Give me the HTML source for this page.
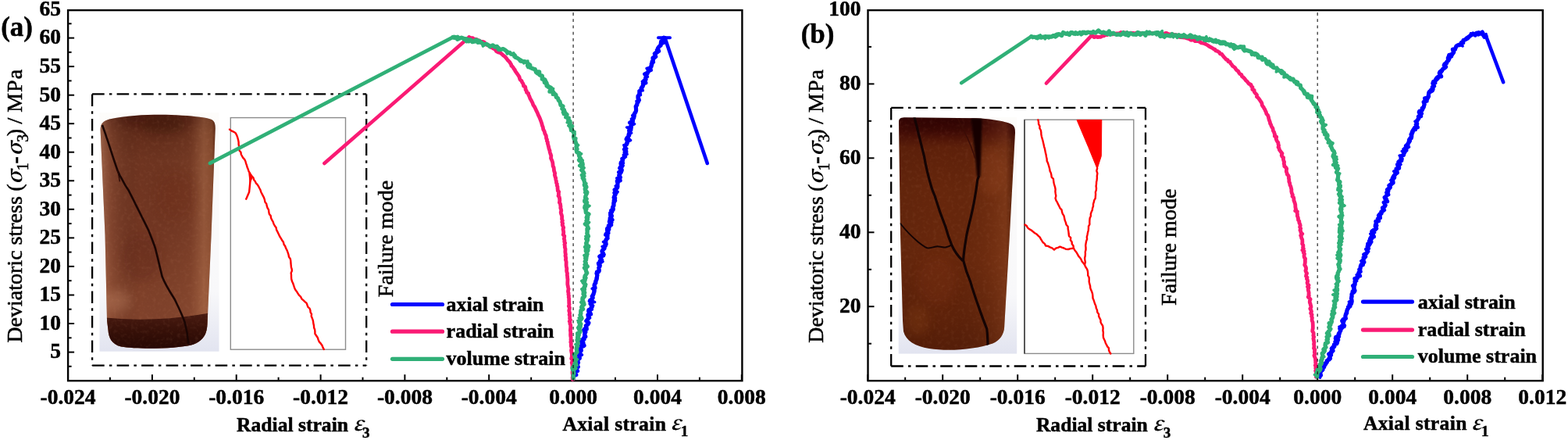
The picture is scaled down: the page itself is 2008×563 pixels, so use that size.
<!DOCTYPE html><html><head><meta charset="utf-8"><title>Stress-strain curves</title>
<style>html,body{margin:0;padding:0;background:#fff;width:2008px;height:563px;overflow:hidden}svg{display:block}text{font-family:'Liberation Serif','Times New Roman',serif;fill:#000}.tk{font-weight:bold;font-size:27.5px;stroke:#000;stroke-width:0.5px}.lg{font-weight:bold;font-size:26px;stroke:#000;stroke-width:0.5px}.lb{font-size:28px;stroke:#000;stroke-width:0.55px}</style></head><body>
<svg width="2008" height="563" viewBox="0 0 2008 563">
<defs><linearGradient id="gaV" x1="0" y1="0" x2="0" y2="1"><stop offset="0" stop-color="#4a1c0e"/><stop offset="0.08" stop-color="#6a2e1c"/><stop offset="0.2" stop-color="#7a3a24"/><stop offset="0.6" stop-color="#7e3f28"/><stop offset="0.83" stop-color="#84452e"/><stop offset="0.855" stop-color="#4a1a0e"/><stop offset="1" stop-color="#2e0c06"/></linearGradient><linearGradient id="gaH" x1="0" y1="0" x2="1" y2="0"><stop offset="0" stop-color="#c08060" stop-opacity="0.45"/><stop offset="0.1" stop-color="#b07050" stop-opacity="0.2"/><stop offset="0.5" stop-color="#000" stop-opacity="0"/><stop offset="0.9" stop-color="#000" stop-opacity="0.05"/><stop offset="1" stop-color="#000" stop-opacity="0.15"/></linearGradient><linearGradient id="gbV" x1="0" y1="0" x2="0" y2="1"><stop offset="0" stop-color="#300505"/><stop offset="0.08" stop-color="#3c0c06"/><stop offset="0.15" stop-color="#5a2410"/><stop offset="0.5" stop-color="#5f230c"/><stop offset="0.85" stop-color="#58220c"/><stop offset="1" stop-color="#4a1a08"/></linearGradient><linearGradient id="gbH" x1="0" y1="0" x2="1" y2="0"><stop offset="0" stop-color="#000" stop-opacity="0.05"/><stop offset="0.5" stop-color="#000" stop-opacity="0"/><stop offset="0.85" stop-color="#a05a28" stop-opacity="0.25"/><stop offset="1" stop-color="#000" stop-opacity="0.1"/></linearGradient><linearGradient id="gbg" x1="0" y1="0" x2="0" y2="1"><stop offset="0" stop-color="#fbfbfb"/><stop offset="0.8" stop-color="#f5f5f8"/><stop offset="1" stop-color="#e4e6f2"/></linearGradient></defs>
<rect width="2008" height="563" fill="#fff"/>
<defs><clipPath id="cpa"><path id="cyla" d="M128.6,166 C128.8,158 132,155 140,152.5 C160,148 185,146.8 205,146.8 C235,147 262,149.5 271,153 C274.5,155 275.8,158 275.8,164 L270.4,305 L265.5,415 C265,428 260,437 245,441.5 C225,446.5 175,447 155,443.5 C143,440.5 139,432 138.5,422 L137,410 L134.5,300 Z"/></clipPath><clipPath id="cpb"><path id="cylb" d="M1151,156 C1151,152 1153,150.5 1158,150.3 L1250,151.2 C1275,152.5 1292,156 1297,160 C1300,163 1300,166 1300,170 L1293,300 L1286.2,418 C1286,428 1280,436 1271.3,439.5 C1250,447 1215,450 1190,446 C1172,443 1160,436 1157,424 L1156,410 L1153,300 Z"/></clipPath><linearGradient id="paV" x1="0" y1="146" x2="0" y2="447" gradientUnits="userSpaceOnUse"><stop offset="0" stop-color="#4c1c10"/><stop offset="0.08" stop-color="#622c1a"/><stop offset="0.2" stop-color="#6e3420"/><stop offset="0.5" stop-color="#723622"/><stop offset="0.75" stop-color="#7e4029"/><stop offset="1" stop-color="#82442e"/></linearGradient><linearGradient id="paH" x1="128" y1="0" x2="276" y2="0" gradientUnits="userSpaceOnUse"><stop offset="0" stop-color="#d8a080" stop-opacity="0.45"/><stop offset="0.1" stop-color="#c08060" stop-opacity="0.18"/><stop offset="0.35" stop-color="#000" stop-opacity="0"/><stop offset="0.78" stop-color="#d09060" stop-opacity="0.06"/><stop offset="0.9" stop-color="#e0a070" stop-opacity="0.3"/><stop offset="0.97" stop-color="#c08050" stop-opacity="0.3"/><stop offset="1" stop-color="#603010" stop-opacity="0.2"/></linearGradient><linearGradient id="paB" x1="0" y1="400" x2="0" y2="447" gradientUnits="userSpaceOnUse"><stop offset="0" stop-color="#4a1c12"/><stop offset="0.5" stop-color="#361008"/><stop offset="1" stop-color="#260804"/></linearGradient><linearGradient id="pbV" x1="0" y1="150" x2="0" y2="450" gradientUnits="userSpaceOnUse"><stop offset="0" stop-color="#340404"/><stop offset="0.06" stop-color="#440c06"/><stop offset="0.13" stop-color="#5e200a"/><stop offset="0.3" stop-color="#66260c"/><stop offset="0.6" stop-color="#68270c"/><stop offset="0.85" stop-color="#5e220a"/><stop offset="1" stop-color="#541d08"/></linearGradient><linearGradient id="pbH" x1="1151" y1="0" x2="1300" y2="0" gradientUnits="userSpaceOnUse"><stop offset="0" stop-color="#000" stop-opacity="0.05"/><stop offset="0.4" stop-color="#000" stop-opacity="0"/><stop offset="0.78" stop-color="#b06030" stop-opacity="0.1"/><stop offset="0.92" stop-color="#c07040" stop-opacity="0.22"/><stop offset="1" stop-color="#000" stop-opacity="0.1"/></linearGradient><linearGradient id="bgp" x1="0" y1="0" x2="0" y2="1"><stop offset="0" stop-color="#fdfcfa"/><stop offset="0.75" stop-color="#f8f8fa"/><stop offset="1" stop-color="#e2e4f0"/></linearGradient><filter id="blr" x="-20%" y="-20%" width="140%" height="140%"><feGaussianBlur stdDeviation="6"/></filter><filter id="blr2" x="-20%" y="-20%" width="140%" height="140%"><feGaussianBlur stdDeviation="1"/></filter><filter id="tex" x="0" y="0" width="100%" height="100%"><feTurbulence type="fractalNoise" baseFrequency="0.22" numOctaves="2" seed="4"/><feColorMatrix type="matrix" values="0 0 0 0 0.72  0 0 0 0 0.36  0 0 0 0 0.22  0 0 0 1.6 -0.75"/></filter></defs>
<rect x="127.5" y="144" width="153" height="305.7" fill="url(#bgp)"/>
<g clip-path="url(#cpa)">
<rect x="120" y="140" width="160" height="320" fill="url(#paV)"/>
<rect x="120" y="140" width="160" height="320" fill="url(#paH)"/>
<g filter="url(#blr)" opacity="0.3"><ellipse cx="150" cy="385" rx="18" ry="14" fill="#c88c6c"/><ellipse cx="208" cy="160" rx="30" ry="12" fill="#2a0804"/><ellipse cx="175" cy="152" rx="15" ry="6" fill="#3a1008"/><ellipse cx="225" cy="250" rx="25" ry="30" fill="#6a2a18"/><ellipse cx="180" cy="330" rx="25" ry="30" fill="#5a2414"/></g>
<path d="M120,405 Q200,415 280,398 L280,460 L120,460 Z" fill="url(#paB)"/>
<rect x="120" y="140" width="160" height="320" filter="url(#tex)" opacity="0.14"/>
<path d="M131,160 C133,166 135,171 136.4,175.6 C139,183 140.5,188 142,192.6 C145,202 148,211 150.6,218.2 C152.5,223 154,226 156.3,229.5 C159,235 162,240 164.8,243.8 C168,250 171,256 173.3,260.8 C176,266 179,272 181.8,277.8 C185,284 188,290 190.3,294.9 C193,302 196,309 199,318 C202,330 205,343 207.7,354 C212,365 218,374 223.7,383 C228,392 233,402 236.5,412 C239,421 240.5,430 241.3,440" fill="none" stroke="#1a0604" stroke-width="2.6"/>
<path d="M150.6,218.2 C151.5,222 152.5,227 153.4,232.4" fill="none" stroke="#2a0a06" stroke-width="1.4"/>
</g>
<rect x="1150.7" y="150" width="151.5" height="302.6" fill="url(#bgp)"/>
<g clip-path="url(#cpb)">
<rect x="1145" y="145" width="160" height="310" fill="url(#pbV)"/>
<rect x="1145" y="145" width="160" height="310" fill="url(#pbH)"/>
<g filter="url(#blr)" opacity="0.3"><ellipse cx="1270" cy="220" rx="18" ry="30" fill="#9a4a20"/><ellipse cx="1200" cy="360" rx="25" ry="30" fill="#7a3212"/><ellipse cx="1175" cy="410" rx="15" ry="20" fill="#8a4418"/><ellipse cx="1210" cy="160" rx="50" ry="10" fill="#200202"/></g>
<rect x="1145" y="145" width="160" height="310" filter="url(#tex)" opacity="0.12"/>
<path d="M1243.5,151 L1257.5,151 C1257,170 1256.5,195 1255.5,226 L1251,226 C1249.5,205 1247,180 1243.5,151 Z" fill="#120303" filter="url(#blr2)"/>
<g fill="none" stroke="#140404" stroke-linecap="round"><path d="M1171,150 C1173,158 1175,165 1176,170 C1179,182 1181.5,192 1183.5,200 C1186,215 1190,230 1193,240 C1194.5,245 1196,248 1197.2,250.8 C1201,264 1206,278 1210.8,290 C1213,298 1216,307 1218.7,313.4 C1222,321 1227,328 1232.4,333" stroke-width="3.2"/><path d="M1253.3,226 C1252.5,228 1252,229 1251.7,230.6 C1250,245 1248,256 1245.7,266.8 C1243,280 1239.5,292 1238,300 C1236,312 1234,323 1233.6,333.2 C1236,343 1239,352 1242.7,360.4 C1246,372 1250.5,385 1254.7,396.6 C1258,406 1261,414 1263.8,420.8 C1264.5,428 1265,434 1265,442" stroke-width="3.2"/><path d="M1226,151 C1232,162 1238,174 1243,186 C1245,192 1247,197 1248.5,202" stroke="#3a0c06" stroke-width="1.5"/><path d="M1153,286 C1160,295 1168,303 1175.6,309.5 C1180,313 1184,316 1187.4,317.3 C1191,318 1195,316 1199.1,315.4 C1203,315 1207,316.5 1210.8,316.5 C1214,316 1216,315 1218.7,313.4" stroke-width="2"/></g>
</g>
<line x1="118.1" y1="120.4" x2="469.2" y2="120.4" stroke="#000" stroke-width="2.3" stroke-dasharray="15.6 6.2 3.5 6.2"/><line x1="118.1" y1="120.4" x2="118.1" y2="467.6" stroke="#000" stroke-width="2.3" stroke-dasharray="15.6 6.2 3.5 6.2"/><line x1="118.1" y1="467.6" x2="469.2" y2="467.6" stroke="#000" stroke-width="2.3" stroke-dasharray="15.6 6.2 3.5 6.2"/><line x1="469.2" y1="120.4" x2="469.2" y2="467.6" stroke="#000" stroke-width="2.3" stroke-dasharray="15.6 6.2 3.5 6.2"/>
<line x1="1141.2" y1="137.9" x2="1467.0" y2="137.9" stroke="#000" stroke-width="2.3" stroke-dasharray="15.6 6.2 3.5 6.2"/><line x1="1141.2" y1="137.9" x2="1141.2" y2="468.5" stroke="#000" stroke-width="2.3" stroke-dasharray="15.6 6.2 3.5 6.2"/><line x1="1141.2" y1="468.5" x2="1467.0" y2="468.5" stroke="#000" stroke-width="2.3" stroke-dasharray="15.6 6.2 3.5 6.2"/><line x1="1467.0" y1="137.9" x2="1467.0" y2="468.5" stroke="#000" stroke-width="2.3" stroke-dasharray="15.6 6.2 3.5 6.2"/>
<rect x="295.3" y="150.6" width="147.2" height="296.6" fill="#fff" stroke="#8c8c8c" stroke-width="1.4"/>
<rect x="1312" y="153.2" width="139.8" height="299.2" fill="#fff" stroke="#8c8c8c" stroke-width="1.4"/>
<line x1="1312" y1="153.2" x2="1312" y2="452.4" stroke="#333" stroke-width="1.4"/>
<path d="M294.0,165.6 296.4,167.4 299.1,168.6 301.7,170.2 303.2,173.1 304.3,176.2 305.1,179.3 305.6,182.0 305.6,184.7 306.1,187.4 306.3,190.1 306.6,192.8 308.4,194.8 308.8,197.5 310.0,199.7 311.2,201.9 313.1,203.9 314.3,206.2 315.0,208.8 315.9,211.4 316.6,214.0 317.7,216.5 318.5,219.1 319.9,221.4 321.1,223.6 322.7,225.6 324.5,227.5 325.1,230.1 326.7,232.0 327.8,234.3 329.6,236.1 331.0,238.3 332.1,240.5 333.3,242.7 334.2,245.4 335.4,247.9 336.7,250.4 338.0,252.9 338.9,255.6 339.4,258.4 341.2,260.7 341.7,263.4 342.5,266.0 344.0,268.4 344.3,271.1 344.8,273.9 346.7,276.1 347.0,278.8 348.2,281.4 349.7,283.8 350.5,286.5 351.9,289.0 353.6,291.3 354.1,294.1 355.6,296.9 356.9,299.7 358.2,302.5 359.9,305.1 361.2,307.5 362.9,309.8 363.6,312.7 365.2,315.0 366.2,317.8 367.6,320.4 368.6,323.1 369.5,325.9 370.0,328.8 371.8,331.2 372.3,333.9 372.4,336.7 372.7,339.3 372.9,341.8 373.7,344.3 373.8,346.8 372.7,349.3 373.0,351.8 373.0,354.2 373.2,357.1 374.0,359.9 375.2,362.5 376.1,365.2 377.0,368.0 378.1,370.6 379.9,372.9 381.4,375.3 382.9,377.7 385.0,379.6 386.3,382.3 388.4,384.2 390.5,386.1 392.6,387.9 393.5,390.4 394.4,392.9 396.5,394.6 397.4,397.2 397.6,399.7 399.0,401.9 398.7,404.6 399.7,406.9 400.6,409.3 401.1,411.7 401.4,414.3 402.0,416.7 402.1,419.3 403.1,421.7 403.4,424.3 403.4,427.0 405.1,429.5 406.8,432.0 407.7,434.9 409.0,437.7 410.9,439.7 412.5,442.0 413.5,444.6 414.8,447.0" fill="none" stroke="#ff0000" stroke-width="2.4" stroke-linejoin="round" stroke-linecap="round" />
<path d="M319.7,221.5 320.6,230.6 319.1,245.7 315.2,254.7" fill="none" stroke="#ff0000" stroke-width="2.4" stroke-linejoin="round" stroke-linecap="round" />
<path d="M318.5,221 L323.5,228 L319.5,236 Z" fill="#ff0000"/>
<path d="M1329.4,153.5 1330.0,156.1 1330.1,158.9 1331.5,161.3 1331.4,164.1 1332.8,166.5 1333.3,169.2 1333.4,172.0 1333.9,174.6 1334.6,177.2 1335.4,179.8 1336.0,182.4 1336.6,185.0 1337.1,187.6 1337.9,190.2 1338.4,192.8 1338.9,195.4 1339.6,198.0 1340.0,200.7 1340.6,203.2 1340.7,206.0 1341.9,208.4 1342.7,211.0 1343.5,213.6 1344.2,216.2 1344.6,218.9 1345.8,221.3 1346.4,224.0 1346.7,226.7 1348.9,228.9 1349.2,231.6 1349.6,234.3 1350.3,236.9 1351.1,239.5 1351.6,242.3 1351.4,245.2 1351.8,248.0 1352.3,250.8 1351.5,253.7 1352.5,256.6 1354.0,258.9 1355.1,261.4 1356.3,263.8 1357.5,266.3 1359.5,268.3 1360.0,271.1 1360.8,273.7 1362.5,276.2 1363.1,279.1 1363.7,281.9 1364.8,284.6 1365.5,287.4 1367.6,289.9 1367.7,293.0 1368.3,296.0 1368.6,299.0 1369.0,302.1 1371.2,304.2 1370.9,307.2 1372.6,309.4 1372.8,312.2 1374.5,314.5 1374.8,317.2 1376.2,320.0 1378.2,322.4 1379.8,325.1 1381.3,327.9 1383.0,329.8 1384.5,331.9 1385.6,334.4 1387.2,336.4 1389.0,338.3" fill="none" stroke="#ff0000" stroke-width="2.4" stroke-linejoin="round" stroke-linecap="round" />
<path d="M1405.2,215.3 1404.3,218.6 1405.4,221.9 1404.8,225.2 1404.9,227.8 1404.6,230.4 1404.1,233.0 1404.0,235.6 1403.6,238.1 1404.0,240.8 1403.8,243.4 1402.9,245.9 1403.1,248.5 1402.9,251.1 1402.7,253.8 1401.3,256.1 1400.8,258.7 1400.0,261.2 1400.0,263.9 1399.1,266.3 1398.8,268.9 1397.6,271.3 1396.8,273.8 1396.9,276.4 1395.7,279.0 1395.4,281.7 1395.3,284.4 1395.4,287.1 1394.0,289.6 1394.0,292.3 1393.7,295.0 1393.0,297.7 1392.5,300.5 1391.8,303.2 1392.1,306.0 1391.1,308.7 1390.6,311.4 1390.2,314.2 1390.5,316.9 1390.5,319.6 1389.8,322.2 1389.9,324.9 1389.7,327.6 1389.1,330.2 1389.4,332.9 1389.9,335.7 1389.0,338.3" fill="none" stroke="#ff0000" stroke-width="2.4" stroke-linejoin="round" stroke-linecap="round" />
<path d="M1312.6,287.4 1314.8,288.9 1316.0,291.4 1318.0,293.1 1320.6,294.5 1322.9,296.4 1325.2,298.3 1327.8,299.8 1329.8,301.8 1331.7,303.6 1332.9,305.9 1334.3,308.2 1335.7,310.3 1337.9,311.9 1339.1,314.5 1342.1,314.9 1344.7,316.4 1347.4,317.4 1350.0,319.6 1352.1,317.7 1354.9,316.9 1357.4,315.6 1359.9,316.7 1362.5,317.5 1364.9,318.8 1368.0,319.0 1371.0,318.1 1374.0,317.8" fill="none" stroke="#ff0000" stroke-width="2.4" stroke-linejoin="round" stroke-linecap="round" />
<path d="M1388.8,338.4 1390.2,341.5 1392.1,344.3 1392.9,346.9 1393.2,349.6 1393.2,352.4 1394.6,354.9 1394.8,357.7 1394.7,360.5 1395.3,363.2 1396.1,365.8 1396.3,368.6 1397.2,371.1 1398.3,373.6 1399.1,376.1 1399.4,378.8 1399.5,381.5 1400.6,384.0 1401.4,386.5 1402.2,389.1 1403.4,391.6 1403.8,394.3 1405.0,396.8 1405.3,399.6 1407.1,401.9 1407.1,404.7 1408.3,407.1 1409.5,409.5 1409.5,412.3 1410.7,414.7 1412.2,417.0 1412.6,419.8 1412.4,422.8 1412.9,425.8 1412.7,428.9 1413.0,432.0 1414.0,434.3 1415.1,436.5 1415.8,439.0 1417.0,441.1 1418.1,443.4 1419.9,445.3 1420.0,448.0 1420.9,450.4 1422.3,452.5" fill="none" stroke="#ff0000" stroke-width="2.4" stroke-linejoin="round" stroke-linecap="round" />
<path d="M1379,153.5 L1410.8,153.5 L1410.3,199.7 L1405.1,216 L1393.8,188.3 Z" fill="#ff0000" stroke="#ff0000" stroke-width="1" stroke-linejoin="round"/>
<line x1="87.0" y1="487.2" x2="87.0" y2="479.2" stroke="#000" stroke-width="2"/><line x1="194.9" y1="487.2" x2="194.9" y2="479.2" stroke="#000" stroke-width="2"/><line x1="302.7" y1="487.2" x2="302.7" y2="479.2" stroke="#000" stroke-width="2"/><line x1="410.6" y1="487.2" x2="410.6" y2="479.2" stroke="#000" stroke-width="2"/><line x1="518.4" y1="487.2" x2="518.4" y2="479.2" stroke="#000" stroke-width="2"/><line x1="626.2" y1="487.2" x2="626.2" y2="479.2" stroke="#000" stroke-width="2"/><line x1="734.1" y1="487.2" x2="734.1" y2="479.2" stroke="#000" stroke-width="2"/><line x1="842.0" y1="487.2" x2="842.0" y2="479.2" stroke="#000" stroke-width="2"/><line x1="949.8" y1="487.2" x2="949.8" y2="479.2" stroke="#000" stroke-width="2"/><line x1="140.9" y1="487.2" x2="140.9" y2="482.7" stroke="#000" stroke-width="2"/><line x1="248.8" y1="487.2" x2="248.8" y2="482.7" stroke="#000" stroke-width="2"/><line x1="356.6" y1="487.2" x2="356.6" y2="482.7" stroke="#000" stroke-width="2"/><line x1="464.5" y1="487.2" x2="464.5" y2="482.7" stroke="#000" stroke-width="2"/><line x1="572.3" y1="487.2" x2="572.3" y2="482.7" stroke="#000" stroke-width="2"/><line x1="680.2" y1="487.2" x2="680.2" y2="482.7" stroke="#000" stroke-width="2"/><line x1="788.0" y1="487.2" x2="788.0" y2="482.7" stroke="#000" stroke-width="2"/><line x1="895.9" y1="487.2" x2="895.9" y2="482.7" stroke="#000" stroke-width="2"/><line x1="87.1" y1="450.6" x2="95.1" y2="450.6" stroke="#000" stroke-width="2"/><line x1="87.1" y1="414.0" x2="95.1" y2="414.0" stroke="#000" stroke-width="2"/><line x1="87.1" y1="377.5" x2="95.1" y2="377.5" stroke="#000" stroke-width="2"/><line x1="87.1" y1="340.9" x2="95.1" y2="340.9" stroke="#000" stroke-width="2"/><line x1="87.1" y1="304.4" x2="95.1" y2="304.4" stroke="#000" stroke-width="2"/><line x1="87.1" y1="267.8" x2="95.1" y2="267.8" stroke="#000" stroke-width="2"/><line x1="87.1" y1="231.3" x2="95.1" y2="231.3" stroke="#000" stroke-width="2"/><line x1="87.1" y1="194.7" x2="95.1" y2="194.7" stroke="#000" stroke-width="2"/><line x1="87.1" y1="158.2" x2="95.1" y2="158.2" stroke="#000" stroke-width="2"/><line x1="87.1" y1="121.7" x2="95.1" y2="121.7" stroke="#000" stroke-width="2"/><line x1="87.1" y1="85.1" x2="95.1" y2="85.1" stroke="#000" stroke-width="2"/><line x1="87.1" y1="48.6" x2="95.1" y2="48.6" stroke="#000" stroke-width="2"/><line x1="87.1" y1="468.8" x2="91.6" y2="468.8" stroke="#000" stroke-width="2"/><line x1="87.1" y1="432.3" x2="91.6" y2="432.3" stroke="#000" stroke-width="2"/><line x1="87.1" y1="395.7" x2="91.6" y2="395.7" stroke="#000" stroke-width="2"/><line x1="87.1" y1="359.2" x2="91.6" y2="359.2" stroke="#000" stroke-width="2"/><line x1="87.1" y1="322.6" x2="91.6" y2="322.6" stroke="#000" stroke-width="2"/><line x1="87.1" y1="286.1" x2="91.6" y2="286.1" stroke="#000" stroke-width="2"/><line x1="87.1" y1="249.6" x2="91.6" y2="249.6" stroke="#000" stroke-width="2"/><line x1="87.1" y1="213.0" x2="91.6" y2="213.0" stroke="#000" stroke-width="2"/><line x1="87.1" y1="176.5" x2="91.6" y2="176.5" stroke="#000" stroke-width="2"/><line x1="87.1" y1="139.9" x2="91.6" y2="139.9" stroke="#000" stroke-width="2"/><line x1="87.1" y1="103.4" x2="91.6" y2="103.4" stroke="#000" stroke-width="2"/><line x1="87.1" y1="66.8" x2="91.6" y2="66.8" stroke="#000" stroke-width="2"/><line x1="87.1" y1="30.3" x2="91.6" y2="30.3" stroke="#000" stroke-width="2"/><rect x="87.1" y="13.1" width="863.3" height="474.1" fill="none" stroke="#000" stroke-width="2.4"/><text class="tk" x="87.0" y="516.6" text-anchor="middle">-0.024</text><text class="tk" x="194.9" y="516.6" text-anchor="middle">-0.020</text><text class="tk" x="302.7" y="516.6" text-anchor="middle">-0.016</text><text class="tk" x="410.6" y="516.6" text-anchor="middle">-0.012</text><text class="tk" x="518.4" y="516.6" text-anchor="middle">-0.008</text><text class="tk" x="626.2" y="516.6" text-anchor="middle">-0.004</text><text class="tk" x="734.1" y="516.6" text-anchor="middle">0.000</text><text class="tk" x="842.0" y="516.6" text-anchor="middle">0.004</text><text class="tk" x="949.8" y="516.6" text-anchor="middle">0.008</text><text class="tk" x="78.1" y="458.4" text-anchor="end">5</text><text class="tk" x="78.1" y="421.8" text-anchor="end">10</text><text class="tk" x="78.1" y="385.3" text-anchor="end">15</text><text class="tk" x="78.1" y="348.7" text-anchor="end">20</text><text class="tk" x="78.1" y="312.2" text-anchor="end">25</text><text class="tk" x="78.1" y="275.6" text-anchor="end">30</text><text class="tk" x="78.1" y="239.1" text-anchor="end">35</text><text class="tk" x="78.1" y="202.5" text-anchor="end">40</text><text class="tk" x="78.1" y="166.0" text-anchor="end">45</text><text class="tk" x="78.1" y="129.5" text-anchor="end">50</text><text class="tk" x="78.1" y="92.9" text-anchor="end">55</text><text class="tk" x="78.1" y="56.4" text-anchor="end">60</text><text class="tk" x="78.1" y="19.8" text-anchor="end">65</text>
<line x1="1111.2" y1="487.2" x2="1111.2" y2="479.2" stroke="#000" stroke-width="2"/><line x1="1207.2" y1="487.2" x2="1207.2" y2="479.2" stroke="#000" stroke-width="2"/><line x1="1303.2" y1="487.2" x2="1303.2" y2="479.2" stroke="#000" stroke-width="2"/><line x1="1399.2" y1="487.2" x2="1399.2" y2="479.2" stroke="#000" stroke-width="2"/><line x1="1495.2" y1="487.2" x2="1495.2" y2="479.2" stroke="#000" stroke-width="2"/><line x1="1591.2" y1="487.2" x2="1591.2" y2="479.2" stroke="#000" stroke-width="2"/><line x1="1687.2" y1="487.2" x2="1687.2" y2="479.2" stroke="#000" stroke-width="2"/><line x1="1783.2" y1="487.2" x2="1783.2" y2="479.2" stroke="#000" stroke-width="2"/><line x1="1879.2" y1="487.2" x2="1879.2" y2="479.2" stroke="#000" stroke-width="2"/><line x1="1975.2" y1="487.2" x2="1975.2" y2="479.2" stroke="#000" stroke-width="2"/><line x1="1159.2" y1="487.2" x2="1159.2" y2="482.7" stroke="#000" stroke-width="2"/><line x1="1255.2" y1="487.2" x2="1255.2" y2="482.7" stroke="#000" stroke-width="2"/><line x1="1351.2" y1="487.2" x2="1351.2" y2="482.7" stroke="#000" stroke-width="2"/><line x1="1447.2" y1="487.2" x2="1447.2" y2="482.7" stroke="#000" stroke-width="2"/><line x1="1543.2" y1="487.2" x2="1543.2" y2="482.7" stroke="#000" stroke-width="2"/><line x1="1639.2" y1="487.2" x2="1639.2" y2="482.7" stroke="#000" stroke-width="2"/><line x1="1735.2" y1="487.2" x2="1735.2" y2="482.7" stroke="#000" stroke-width="2"/><line x1="1831.2" y1="487.2" x2="1831.2" y2="482.7" stroke="#000" stroke-width="2"/><line x1="1927.2" y1="487.2" x2="1927.2" y2="482.7" stroke="#000" stroke-width="2"/><line x1="1111.5" y1="392.2" x2="1119.5" y2="392.2" stroke="#000" stroke-width="2"/><line x1="1111.5" y1="297.3" x2="1119.5" y2="297.3" stroke="#000" stroke-width="2"/><line x1="1111.5" y1="202.3" x2="1119.5" y2="202.3" stroke="#000" stroke-width="2"/><line x1="1111.5" y1="107.4" x2="1119.5" y2="107.4" stroke="#000" stroke-width="2"/><line x1="1111.5" y1="439.7" x2="1116.0" y2="439.7" stroke="#000" stroke-width="2"/><line x1="1111.5" y1="344.8" x2="1116.0" y2="344.8" stroke="#000" stroke-width="2"/><line x1="1111.5" y1="249.8" x2="1116.0" y2="249.8" stroke="#000" stroke-width="2"/><line x1="1111.5" y1="154.8" x2="1116.0" y2="154.8" stroke="#000" stroke-width="2"/><line x1="1111.5" y1="59.9" x2="1116.0" y2="59.9" stroke="#000" stroke-width="2"/><rect x="1111.5" y="13.1" width="864.2" height="474.1" fill="none" stroke="#000" stroke-width="2.4"/><text class="tk" x="1111.2" y="516.6" text-anchor="middle">-0.024</text><text class="tk" x="1207.2" y="516.6" text-anchor="middle">-0.020</text><text class="tk" x="1303.2" y="516.6" text-anchor="middle">-0.016</text><text class="tk" x="1399.2" y="516.6" text-anchor="middle">-0.012</text><text class="tk" x="1495.2" y="516.6" text-anchor="middle">-0.008</text><text class="tk" x="1591.2" y="516.6" text-anchor="middle">-0.004</text><text class="tk" x="1687.2" y="516.6" text-anchor="middle">0.000</text><text class="tk" x="1783.2" y="516.6" text-anchor="middle">0.004</text><text class="tk" x="1879.2" y="516.6" text-anchor="middle">0.008</text><text class="tk" x="1975.2" y="516.6" text-anchor="middle">0.012</text><text class="tk" x="1102.5" y="400.0" text-anchor="end">20</text><text class="tk" x="1102.5" y="305.1" text-anchor="end">40</text><text class="tk" x="1102.5" y="210.1" text-anchor="end">60</text><text class="tk" x="1102.5" y="115.2" text-anchor="end">80</text><text class="tk" x="1102.5" y="20.2" text-anchor="end">100</text>
<path d="M734.2,483.9 734.7,481.0 737.8,479.6 734.3,476.6 737.1,475.6 739.6,474.6 736.4,472.1 738.6,470.8 740.3,469.4 738.6,467.1 739.7,465.5 740.5,463.9 739.1,461.6 740.4,460.1 741.2,458.5 742.2,456.9 741.7,455.0 741.9,453.3 741.5,451.4 742.6,449.9 744.4,448.5 744.0,446.6 743.4,444.6 743.9,442.9 748.1,442.1 746.9,439.8 746.8,437.9 743.8,435.3 747.7,434.3 748.0,432.4 749.8,430.8 748.9,428.6 748.8,426.6 749.9,424.8 747.7,422.3 751.3,421.0 751.0,418.9 750.3,416.6 752.9,415.0 753.9,413.0 750.8,410.7 751.9,409.3 753.3,408.0 753.5,406.4 753.2,404.6 752.9,402.9 756.6,402.0 755.8,400.2 753.7,398.1 753.9,396.5 757.5,395.6 757.0,393.8 758.3,392.4 757.5,390.6 756.0,388.7 757.6,387.4 755.3,385.2 757.2,384.0 758.2,382.6 759.2,381.1 758.2,379.3 759.2,377.8 760.1,376.4 760.4,374.7 761.0,373.2 760.9,371.5 760.6,369.8 762.1,368.5 761.7,366.8 761.1,365.0 761.6,363.5 762.6,362.0 763.0,360.0 763.7,358.0 764.0,355.9 764.6,354.0 764.7,351.9 764.0,349.7 766.2,348.2 767.3,346.6 767.1,344.5 766.9,342.6 768.0,341.0 766.9,338.9 766.4,336.9 768.9,335.7 768.3,333.7 770.5,332.5 769.0,330.3 767.8,328.2 770.0,326.8 773.2,325.8 771.6,323.5 770.9,321.4 772.0,319.7 773.9,318.1 774.3,316.2 774.4,314.1 776.2,312.4 775.8,310.2 775.5,308.0 776.6,306.1 778.1,304.8 777.7,303.0 778.1,301.5 776.1,299.4 777.5,298.1 778.8,296.7 778.0,294.9 779.8,293.6 779.6,291.9 780.3,290.4 779.4,288.5 782.7,287.6 781.6,285.7 780.4,283.8 781.1,282.3 784.1,281.3 781.3,279.0 782.9,277.7 783.4,276.2 782.7,274.3 781.7,272.4 783.6,271.1 784.1,269.5 785.3,268.1 785.2,266.4 784.8,264.6 786.0,263.1 786.0,261.4 786.0,259.7 786.2,258.1 786.2,256.4 787.5,255.1 786.1,252.7 787.0,250.7 788.1,248.9 786.9,246.7 788.4,245.1 787.1,242.8 788.9,241.5 790.6,240.2 791.0,238.6 790.8,236.4 791.1,234.3 790.3,232.0 794.2,231.0 793.3,228.7 794.4,226.9 792.7,224.3 794.0,222.4 792.6,220.3 795.8,219.3 796.3,217.7 793.7,215.1 796.1,213.6 797.3,211.8 795.0,209.7 795.3,208.0 796.5,206.6 797.3,205.0 796.8,203.2 798.7,201.8 799.3,200.1 800.1,198.5 800.5,196.8 801.8,195.2 801.8,193.4 799.5,191.1 800.7,189.6 800.5,187.8 800.8,186.2 802.3,184.7 802.8,182.7 803.8,180.8 802.1,178.2 803.0,176.4 804.7,174.9 805.0,172.9 805.4,171.1 806.1,169.5 805.9,167.5 807.9,166.2 808.0,164.4 808.0,162.6 807.9,160.8 808.9,159.3 806.6,156.9 808.9,155.9 810.5,154.6 809.3,152.5 811.5,151.4 811.9,149.8 810.7,147.8 812.3,146.6 812.7,145.0 813.9,143.6 814.6,141.3 814.5,138.8 814.2,136.3 815.4,134.2 816.1,132.0 817.5,130.0 817.5,127.7 817.0,125.2 817.0,122.9 818.6,121.1 818.9,118.9 819.1,116.6 820.9,115.0 821.2,112.8 822.5,111.0 823.6,109.2 823.4,106.9 826.9,106.0 824.9,103.1 827.1,101.7 826.8,99.5 828.5,98.1 825.7,94.8 828.1,93.7 829.8,92.3 830.9,90.7 833.4,89.7 832.1,87.1 833.8,85.8 834.0,83.9 834.8,82.4 835.1,80.6 835.1,78.8 836.4,77.5 836.0,74.0 839.5,72.2 838.3,68.7 840.7,66.8 843.6,65.4 842.4,62.0 843.8,59.8 846.1,58.2 846.3,55.4 846.7,52.9 848.8,51.8 849.9,50.7 850.6,50.0 850.1,48.2 851.2,50.6 851.1,50.5 851.3,48.7 851.5,48.6" fill="none" stroke="#0000ff" stroke-width="5.2" stroke-linejoin="round" stroke-linecap="round" />
<path d="M734.9,484.1 734.6,480.9 737.8,479.6 735.2,476.8 737.6,475.8 736.3,473.8 736.4,472.1 738.9,470.9 740.2,469.4 738.7,467.2 738.1,465.1 740.8,463.9 739.9,461.8 740.9,460.2 743.1,459.0 742.9,457.1 741.0,454.8 745.5,454.2 742.6,451.7 744.1,450.3 742.5,448.0 743.8,446.6 741.8,444.2 747.4,443.7 747.2,441.8 743.9,439.1 743.9,437.2 744.2,435.4 748.8,434.5 746.8,432.1 747.9,430.4 747.9,428.4 748.7,426.6 747.7,424.3 749.8,422.7 748.1,420.3 750.5,418.8 751.5,416.8 752.2,414.8 751.6,412.6 751.0,410.8 752.9,409.5 752.3,407.8 755.6,406.8 754.8,405.0 753.8,403.1 753.6,401.4 753.6,399.7 753.6,398.1 754.8,396.7 756.1,395.3 756.7,393.8 757.1,392.2 759.7,391.1 755.9,388.7 757.3,387.3 761.7,386.6 755.2,383.6 757.5,382.4 758.9,381.1 759.2,379.5 759.9,378.0 759.3,376.2 760.5,374.8 760.4,373.1 761.8,371.7 758.2,369.3 760.0,368.0 761.6,366.7 760.5,364.9 760.8,363.3 763.6,362.2 762.1,359.8 764.5,358.2 765.1,356.2 764.9,354.0 765.6,352.1 765.1,350.0 763.7,347.6 766.1,346.3 767.3,344.6 766.3,342.5 767.4,340.9 769.1,339.4 767.1,337.1 769.8,336.0 772.0,334.7 768.9,332.1 770.4,330.6 770.4,328.8 773.3,327.7 772.0,325.5 773.3,323.9 771.4,321.5 772.8,319.9 773.3,318.0 771.1,315.4 776.3,314.5 776.0,312.4 772.5,309.5 776.6,308.2 775.8,305.9 777.0,304.5 777.2,302.9 774.8,300.8 777.0,299.6 779.8,298.6 777.1,296.3 776.8,294.6 776.6,292.9 777.2,291.4 779.8,290.3 782.1,289.1 780.6,287.1 780.7,285.5 783.9,284.5 780.2,282.1 780.3,280.5 782.4,279.3 782.8,277.7 780.8,275.6 780.9,274.0 783.4,272.8 783.7,271.2 781.8,269.0 783.7,267.7 783.6,266.0 785.4,264.7 784.9,262.9 785.3,261.3 785.2,259.6 787.6,258.4 788.5,256.9 786.2,254.8 788.5,253.2 786.5,250.6 788.2,248.9 789.6,247.2 791.1,245.6 788.7,243.2 789.6,241.7 790.3,240.2 788.2,238.0 790.9,236.4 790.4,234.1 792.4,232.5 790.6,230.1 789.8,227.9 793.2,226.7 794.1,224.6 793.4,222.2 795.9,221.1 794.5,219.1 794.4,217.3 796.4,215.7 793.9,213.1 795.6,211.5 796.9,210.0 798.5,208.7 797.4,206.8 798.4,205.3 797.4,203.3 799.1,201.9 801.5,200.6 798.4,198.1 803.2,197.4 799.2,194.7 800.5,193.2 801.1,191.5 802.8,190.1 799.8,187.7 798.9,185.7 803.2,185.0 804.0,183.0 804.2,180.9 807.6,179.6 804.6,176.8 805.1,175.0 806.6,173.4 806.2,171.4 808.6,170.1 804.9,167.2 806.6,165.9 802.7,162.9 809.3,163.0 808.0,160.9 810.4,159.8 812.6,158.7 810.0,156.2 810.1,154.5 810.2,152.8 810.1,151.0 810.9,149.5 813.1,148.4 812.7,146.6 813.1,145.1 813.2,143.4 815.3,141.5 815.2,139.0 814.9,136.5 816.6,134.5 815.9,132.0 815.0,129.4 819.3,128.2 818.5,125.7 817.0,122.9 820.5,121.7 820.1,119.3 818.1,116.3 823.3,115.8 822.1,113.1 823.6,111.4 823.4,109.1 823.6,107.0 822.4,104.3 826.6,103.7 826.0,101.3 826.3,99.3 827.9,97.8 828.2,95.8 829.8,94.4 829.0,92.0 830.2,90.4 828.1,87.4 831.2,86.7 833.4,85.6 835.0,84.4 833.4,81.7 834.4,80.3 837.4,79.8 835.5,77.1 838.1,74.9 840.6,72.7 839.4,69.2 842.1,67.5 840.5,63.9 842.9,62.2 843.7,59.8 845.2,57.6 847.7,56.2 850.5,55.2 847.7,51.1 848.7,49.8 850.6,49.9 849.7,47.6 851.0,49.4 851.1,49.5 851.2,48.3 851.5,48.6" fill="none" stroke="#0000ff" stroke-width="3.5" stroke-linejoin="round" stroke-linecap="round" />
<path d="M843.0,48.2 858.0,48.2" fill="none" stroke="#0000ff" stroke-width="4" stroke-linejoin="round" stroke-linecap="round" />
<path d="M851.5,48.6 905.8,209.0" fill="none" stroke="#0000ff" stroke-width="4.6" stroke-linejoin="round" stroke-linecap="round" />
<path d="M733.1,483.0 733.8,483.3 733.2,484.4 733.9,485.3 733.3,485.5 733.3,484.2 733.3,482.5 733.6,480.7 733.2,478.6 733.0,476.5 733.2,474.4 733.4,472.6 732.9,470.9 732.9,469.2 733.1,467.4 732.7,465.7 732.2,464.0 733.2,462.3 733.1,460.6 731.7,459.0 732.2,457.2 732.3,455.6 732.4,453.7 732.2,451.9 731.8,450.2 731.5,448.4 731.8,446.6 732.0,444.7 731.3,443.0 731.2,441.3 731.4,439.5 730.8,437.7 731.2,436.0 731.0,434.2 731.2,432.3 730.8,430.4 730.6,428.5 730.7,426.6 730.7,424.7 730.4,423.0 730.5,421.3 730.7,419.5 730.7,417.8 730.8,416.1 729.9,414.4 730.0,412.8 729.2,411.1 730.5,409.4 729.6,407.7 729.7,406.1 729.8,404.4 729.1,402.8 729.6,401.2 729.3,399.5 728.7,397.6 729.2,395.6 729.4,393.6 728.3,391.7 729.0,389.7 728.7,387.8 728.7,385.9 728.6,384.0 728.7,382.1 728.2,380.4 728.4,378.5 727.9,376.7 728.1,375.0 727.5,373.3 727.6,371.6 728.1,369.9 727.6,367.8 727.2,365.7 726.8,363.7 726.8,361.7 726.9,359.7 727.0,357.6 726.7,355.7 726.6,353.7 726.3,351.8 726.5,349.7 725.8,347.7 725.6,345.7 725.9,344.1 725.6,342.5 725.3,340.9 725.1,339.3 725.1,337.6 725.2,335.9 725.0,334.2 724.4,332.5 724.7,330.7 724.5,329.0 724.0,327.3 724.4,325.5 724.0,323.7 723.8,321.9 724.0,320.1 724.0,318.3 723.3,316.5 723.4,314.7 722.9,312.9 723.7,311.0 722.7,309.3 723.0,307.5 722.3,305.7 722.6,303.8 722.8,302.0 721.2,300.4 721.7,298.5 721.7,296.7 721.4,294.9 721.0,293.1 721.7,291.3 720.9,289.5 720.1,287.8 720.7,285.9 719.7,284.1 720.4,282.2 719.6,280.5 719.6,278.6 719.7,276.8 719.2,275.0 718.5,273.3 718.2,271.5 718.8,269.6 718.5,267.8 717.8,266.1 718.0,264.3 717.7,262.5 717.5,260.8 716.4,259.2 716.7,257.4 716.8,255.7 716.5,254.0 716.3,252.3 715.0,250.8 715.5,248.9 715.3,247.3 715.7,245.5 714.3,244.0 714.2,242.2 714.0,240.5 714.0,238.8 713.2,237.3 713.4,235.5 712.5,234.0 712.4,231.9 711.8,229.8 711.6,227.7 710.9,225.8 710.3,223.9 710.7,221.8 710.1,220.1 709.5,218.5 709.4,216.7 709.1,214.4 708.1,212.4 708.0,210.4 707.8,208.5 707.4,206.9 706.8,205.3 705.5,202.5 705.8,199.3 705.2,197.7 704.7,196.2 704.2,194.6 704.0,192.9 703.4,191.4 702.9,189.8 702.6,188.2 702.2,186.6 701.8,185.0 701.3,183.5 701.4,181.8 700.4,180.4 700.5,178.6 699.6,177.2 699.5,175.5 699.3,173.7 698.5,172.2 697.7,170.7 697.4,168.9 696.8,167.3 695.8,165.9 695.5,164.1 695.2,162.5 694.5,161.0 694.1,159.4 693.7,157.8 692.7,155.0 691.7,152.2 690.6,149.6 689.3,147.1 688.3,144.5 687.0,141.9 685.8,139.3 684.6,136.7 682.8,134.3 681.9,131.5 680.5,128.8 678.8,126.0 678.3,124.4 677.7,122.8 676.8,121.3 676.6,119.3 674.5,118.3 674.3,116.3 673.1,114.9 673.0,112.8 672.6,111.0 670.5,110.1 670.3,108.2 669.6,106.6 668.6,105.3 668.1,103.8 665.8,101.5 665.0,98.4 663.3,95.8 661.6,93.3 659.8,90.8 659.2,89.2 658.0,88.0 657.3,86.5 656.2,85.2 654.9,84.1 654.5,82.4 653.6,81.0 652.8,79.5 650.5,77.3 648.7,74.8 646.8,72.7 644.8,71.2 643.0,69.4 641.0,67.8 638.3,67.0 635.7,65.7 634.8,64.1 633.6,63.0 632.1,62.2 630.6,61.2 628.9,60.6 627.4,59.6 626.1,58.2 624.3,57.7 622.6,57.0 621.2,55.9 620.2,54.1 618.6,53.5 616.7,53.5 615.2,52.8 613.6,51.9 611.8,51.5 610.3,50.3 608.5,50.1 606.8,49.9 605.5,48.7 602.7,48.4 600.8,47.6" fill="none" stroke="#fa1a74" stroke-width="4.8" stroke-linejoin="round" stroke-linecap="round" />
<path d="M600.8,47.6 415.4,209.1" fill="none" stroke="#fa1a74" stroke-width="4.6" stroke-linejoin="round" stroke-linecap="round" />
<path d="M734.2,484.0 734.2,482.4 734.1,480.2 735.1,477.7 734.4,474.5 733.3,472.7 733.1,470.9 734.4,469.1 735.2,467.2 736.2,465.1 736.6,462.9 737.3,461.2 737.0,459.5 736.2,457.7 736.5,455.8 735.2,453.8 737.5,452.2 738.5,450.4 738.7,448.5 738.2,446.5 738.4,444.6 739.8,442.8 739.0,440.8 740.1,439.1 740.1,437.2 739.9,435.3 741.4,433.7 739.5,431.7 740.0,430.0 739.7,428.2 740.0,426.4 742.8,425.1 743.2,423.4 741.6,421.4 742.4,419.7 743.3,418.1 743.2,416.2 743.9,414.5 741.4,412.4 742.3,410.7 743.8,409.0 745.1,407.3 743.9,405.2 743.1,403.2 743.9,401.3 743.8,399.3 743.8,397.3 746.6,395.5 744.6,393.2 745.5,391.3 748.1,389.5 747.3,387.2 746.6,385.0 745.8,382.8 747.2,380.8 748.8,378.8 747.9,376.6 748.8,374.5 747.8,372.3 748.5,370.2 747.9,368.1 748.8,366.0 749.9,364.0 747.1,361.7 748.8,359.7 749.3,357.6 748.6,355.4 749.0,353.3 750.4,351.3 751.8,349.3 750.5,347.1 750.3,344.9 748.4,342.7 752.3,340.9 750.4,338.7 750.4,336.7 749.3,334.5 750.6,332.6 749.6,330.6 751.0,328.7 751.5,326.9 751.1,325.0 751.5,323.1 750.3,321.3 752.9,319.7 750.7,317.8 749.5,316.0 751.4,314.4 750.8,312.7 750.6,311.0 751.4,309.3 752.2,307.6 750.6,305.8 751.8,304.0 753.5,302.3 752.7,300.4 751.8,298.6 752.1,296.7 751.9,294.7 751.9,292.8 752.8,290.8 751.9,288.7 749.3,286.7 751.9,284.6 750.9,282.6 752.5,280.4 751.1,278.4 751.9,276.2 754.0,274.0 750.4,272.0 750.2,269.9 749.8,267.8 748.7,265.8 749.1,263.6 751.4,261.4 750.2,259.4 748.7,257.9 749.0,256.2 751.2,254.5 749.5,253.0 749.8,251.3 750.4,249.6 751.4,247.8 751.9,246.1 750.7,244.5 749.6,243.0 749.4,241.4 751.0,239.5 750.4,237.9 748.3,236.6 749.0,234.9 748.6,233.3 748.1,231.3 747.2,229.4 746.1,227.6 746.7,225.7 745.3,224.0 748.0,221.8 746.9,219.6 744.6,217.6 746.9,215.0 745.9,213.0 742.5,211.9 746.0,209.0 744.5,207.6 745.4,205.5 741.4,204.8 742.8,202.6 742.3,201.0 741.6,199.3 741.2,197.6 741.7,195.7 738.6,194.7 738.4,193.0 737.9,191.4 738.4,189.6 737.9,188.0 738.6,186.2 737.7,183.2 736.6,180.3 735.1,177.6 734.6,174.8 735.3,171.6 734.3,169.0 732.8,166.7 731.6,164.4 732.7,161.4 729.8,160.0 730.3,157.4 730.0,155.2 727.7,153.7 727.9,151.1 725.0,149.9 726.1,146.7 724.2,145.0 721.3,143.8 722.4,140.5 719.8,139.1 721.0,136.0 718.0,134.7 717.5,132.4 716.9,130.0 715.2,128.2 714.5,125.7 712.4,124.1 711.9,121.2 709.7,119.5 708.2,117.2 703.9,117.1 705.7,112.3 703.2,110.9 700.0,110.0 700.2,106.6 698.9,104.3 697.8,101.7 694.2,101.1 694.4,97.0 690.9,96.0 690.7,91.8 686.6,91.6 685.0,88.9 682.0,87.8 679.4,86.7 678.8,83.1 676.5,81.6 674.7,79.5 672.2,78.7 669.1,78.5 666.4,78.1 664.8,75.8 662.7,74.4 660.5,73.3 659.2,70.7 656.9,69.7 654.5,69.1 652.6,67.5 650.4,66.8 648.5,65.4 646.5,63.8 644.3,62.6 641.2,63.3 638.3,63.3 636.6,59.3 633.5,59.8 631.1,57.8 627.4,59.8 625.2,57.5 622.6,56.2 619.3,56.8 616.9,54.9 614.7,52.9 612.2,51.8 609.8,50.8 607.2,53.3 604.9,53.7 602.9,51.5 601.1,50.9 599.3,51.5 597.3,52.7 597.2,50.2 596.4,49.7 595.4,49.5 594.0,50.1 592.9,48.9 591.0,48.0 588.5,49.2 585.8,50.3 583.6,47.6 581.5,47.2 580.0,47.6" fill="none" stroke="#30b077" stroke-width="5.2" stroke-linejoin="round" stroke-linecap="round" />
<path d="M734.0,484.0 735.5,482.5 733.6,480.1 734.6,477.6 734.7,474.6 736.2,473.0 737.9,471.4 735.4,469.2 739.1,467.7 738.5,465.3 737.7,463.0 737.6,461.3 739.5,459.8 736.8,457.7 737.1,455.9 735.9,453.9 738.4,452.3 739.9,450.6 738.9,448.5 739.0,446.6 738.3,444.6 739.1,442.7 736.9,440.6 740.8,439.2 738.9,437.1 738.1,435.1 738.8,433.4 738.9,431.6 741.7,430.2 742.2,428.5 738.8,426.3 742.5,425.0 742.6,423.3 740.7,421.2 739.6,419.3 740.9,417.7 741.4,416.0 743.1,414.4 742.3,412.5 740.0,410.3 743.6,409.0 741.2,406.8 745.1,405.4 742.2,403.1 743.2,401.2 743.2,399.2 743.9,397.3 746.9,395.6 746.5,393.5 746.4,391.4 746.2,389.2 743.7,386.8 745.5,384.9 745.7,382.8 745.3,380.6 747.8,378.7 746.1,376.4 746.4,374.3 746.1,372.1 744.8,369.9 749.0,368.2 750.3,366.2 748.7,363.9 747.2,361.7 744.8,359.4 749.3,357.6 751.0,355.6 749.8,353.4 750.9,351.4 751.9,349.3 751.5,347.1 749.3,344.9 751.6,342.9 751.4,340.8 748.0,338.6 749.8,336.6 748.4,334.5 750.5,332.6 751.7,330.7 749.3,328.6 747.9,326.7 753.0,325.1 751.8,323.2 753.5,321.5 749.4,319.5 753.0,317.9 754.6,316.3 754.6,314.5 751.4,312.7 752.1,311.0 751.6,309.3 753.3,307.6 753.4,305.8 752.1,304.0 749.9,302.3 753.1,300.4 751.3,298.6 752.9,296.7 752.4,294.7 754.4,292.7 753.7,290.8 751.3,288.7 752.5,286.7 754.6,284.6 751.1,282.5 752.5,280.4 753.6,278.3 753.6,276.1 752.4,274.1 749.6,272.0 749.6,269.9 751.8,267.7 751.9,265.6 755.0,263.3 749.7,261.5 752.6,259.2 751.9,257.6 748.1,256.3 749.3,254.6 750.6,252.9 749.5,251.3 749.9,249.6 750.6,247.9 748.6,246.4 750.3,244.6 748.5,243.1 748.4,241.5 749.9,239.6 748.0,238.2 749.1,236.5 750.9,234.7 748.3,233.3 747.8,231.4 748.9,229.2 747.0,227.4 748.8,225.3 745.1,224.1 747.6,221.8 745.5,219.8 744.7,217.6 748.0,214.7 743.8,213.6 747.1,210.8 745.0,209.3 745.7,207.3 741.8,206.5 744.5,204.0 744.4,202.3 741.7,201.1 741.2,199.4 744.6,196.8 740.8,195.9 739.5,194.5 738.8,192.9 740.0,190.9 739.4,189.3 738.8,187.8 740.7,185.7 736.9,183.4 737.3,180.1 737.9,176.8 733.6,175.0 735.7,171.5 736.1,168.5 730.8,167.4 730.3,164.8 729.7,162.5 727.8,160.7 730.2,157.5 726.2,156.7 728.7,153.3 729.1,150.6 723.9,150.4 724.7,147.4 721.4,146.4 723.9,142.4 720.8,141.3 720.3,138.9 719.7,136.5 719.4,134.1 717.2,132.5 716.7,130.2 714.8,128.4 714.4,125.8 711.5,124.8 711.4,121.6 707.4,121.3 707.4,117.8 708.6,113.5 704.8,113.0 701.6,112.1 701.9,108.6 698.9,107.6 696.6,106.1 696.0,103.1 695.9,99.6 693.6,97.7 691.0,96.0 687.9,94.7 685.6,92.7 685.8,87.9 682.5,87.2 679.3,86.8 676.1,86.6 674.7,84.1 675.9,77.9 670.7,80.9 669.4,78.1 667.5,76.3 665.1,75.4 662.9,74.2 659.9,74.3 658.0,72.6 657.9,67.8 654.1,69.8 653.1,66.6 649.4,68.9 648.2,66.0 646.4,64.2 644.5,62.2 640.9,64.2 639.1,60.8 636.3,60.2 633.1,60.9 630.9,58.3 627.6,59.4 624.9,58.3 622.5,56.3 618.5,59.2 617.1,54.6 614.1,55.1 611.6,55.2 609.5,53.2 607.3,51.2 605.0,52.8 603.0,50.2 600.7,53.7 598.7,53.6 598.7,49.2 597.1,50.4 596.7,49.2 594.7,51.2 594.5,48.4 592.9,48.8 591.0,47.9 588.5,48.5 586.2,46.4 583.5,48.9 581.3,49.2 580.0,47.6" fill="none" stroke="#30b077" stroke-width="3.5" stroke-linejoin="round" stroke-linecap="round" />
<path d="M580.0,47.6 268.9,208.9" fill="none" stroke="#30b077" stroke-width="4.6" stroke-linejoin="round" stroke-linecap="round" />
<line x1="734.1" y1="13.1" x2="734.1" y2="487.2" stroke="#000" stroke-width="1.2" stroke-dasharray="3.8 4.4" stroke-dashoffset="-3" opacity="0.85"/>
<path d="M1687.5,481.4 1691.5,480.1 1690.7,477.3 1691.5,475.2 1692.4,473.8 1693.7,472.6 1693.8,470.7 1695.6,469.7 1696.1,467.9 1697.1,466.4 1697.5,464.6 1699.3,463.6 1699.6,461.8 1701.3,460.0 1702.4,457.9 1703.4,456.0 1701.7,453.0 1704.2,451.9 1704.7,449.9 1707.0,448.7 1705.3,446.0 1706.9,444.5 1708.0,442.8 1708.6,441.0 1710.7,439.7 1709.9,437.3 1712.1,436.0 1710.3,433.2 1710.7,431.2 1714.6,430.6 1714.5,428.5 1715.3,426.7 1715.7,424.8 1716.8,423.1 1715.8,420.6 1718.7,419.5 1718.0,417.1 1720.3,415.7 1720.1,413.3 1718.7,410.5 1720.1,408.7 1723.4,407.5 1722.8,404.9 1723.3,402.6 1724.7,400.6 1724.7,398.2 1725.4,395.9 1726.5,394.6 1727.1,393.0 1729.0,391.9 1728.0,389.9 1730.4,388.9 1730.8,387.3 1731.2,385.6 1731.0,383.8 1730.5,381.8 1731.0,380.1 1731.2,378.3 1731.0,376.5 1732.2,374.9 1732.1,373.0 1735.0,371.9 1734.3,369.8 1733.7,367.8 1732.6,365.6 1735.1,364.4 1735.2,362.5 1735.0,360.5 1735.5,358.7 1734.9,356.6 1738.4,355.8 1738.3,353.8 1741.6,353.0 1739.5,350.4 1740.0,348.6 1742.2,347.5 1741.5,345.3 1742.1,343.5 1742.2,341.6 1742.6,339.8 1745.4,338.8 1745.5,336.9 1746.9,335.4 1745.4,332.9 1746.4,331.3 1746.1,329.3 1748.7,328.2 1746.8,325.6 1749.5,324.6 1750.6,323.1 1751.6,321.5 1749.7,318.9 1752.5,317.9 1751.2,315.5 1751.7,313.8 1751.7,311.8 1754.9,311.0 1756.0,309.4 1754.3,306.9 1754.7,305.1 1755.8,303.5 1759.4,302.9 1758.4,300.6 1757.5,298.3 1756.8,296.1 1758.6,294.8 1761.2,293.8 1762.6,292.3 1761.2,289.6 1761.5,287.6 1762.5,285.8 1761.9,283.3 1765.6,282.6 1764.4,279.9 1767.4,278.9 1765.5,275.8 1766.7,274.2 1769.1,273.1 1768.8,270.8 1771.1,269.9 1771.0,267.9 1770.5,265.8 1773.1,264.5 1774.2,262.5 1772.2,258.9 1776.6,257.7 1775.2,256.4 1775.6,255.2 1773.2,252.5 1774.9,251.3 1775.7,249.9 1777.8,248.9 1775.7,246.4 1776.9,245.0 1776.5,242.6 1779.0,241.4 1780.4,239.8 1778.9,237.4 1780.6,236.2 1782.4,235.1 1784.1,233.9 1783.8,231.9 1783.5,229.9 1783.3,227.9 1784.2,226.3 1785.1,224.8 1786.6,223.6 1787.0,221.9 1789.4,221.0 1788.8,218.5 1788.1,216.1 1791.6,215.2 1791.6,213.3 1791.5,211.3 1791.3,209.3 1790.8,207.3 1792.3,206.1 1794.8,205.4 1794.0,202.4 1794.4,200.0 1796.9,198.5 1797.8,196.3 1798.8,194.9 1799.5,193.5 1800.9,192.3 1799.3,189.7 1801.8,188.9 1800.5,186.5 1802.9,185.5 1803.2,183.5 1804.0,181.8 1805.5,180.3 1805.2,178.1 1807.2,176.8 1807.7,174.8 1807.8,172.7 1807.9,170.5 1808.5,168.6 1809.5,166.8 1810.7,165.1 1811.6,163.4 1815.4,162.9 1813.8,160.0 1814.7,158.4 1813.8,156.0 1814.7,154.3 1815.8,152.8 1817.0,151.4 1816.4,149.2 1819.7,148.7 1818.2,146.2 1820.5,145.3 1817.7,142.3 1820.7,141.7 1821.6,140.3 1822.1,138.7 1823.1,137.4 1823.4,135.7 1824.2,133.5 1823.1,130.4 1825.2,128.7 1824.6,125.8 1828.5,125.1 1829.1,122.9 1829.5,120.7 1829.8,118.5 1831.0,116.7 1834.3,116.0 1835.1,114.0 1834.3,111.3 1836.6,110.1 1834.8,106.8 1835.5,104.7 1837.9,103.5 1838.7,101.4 1840.0,99.6 1841.9,98.1 1845.7,97.8 1843.4,93.7 1845.3,92.2 1846.7,90.4 1847.6,88.3 1849.6,86.9 1851.6,85.5 1850.0,81.9 1852.5,80.9 1853.2,78.8 1854.9,77.3 1854.3,74.4 1855.2,72.4 1855.8,70.3 1859.5,70.1 1860.4,68.2 1861.4,66.4 1860.4,63.2 1863.3,62.8 1864.2,61.0 1865.0,58.9 1866.7,57.9 1869.2,57.7 1870.5,56.3 1871.5,54.5 1873.3,53.7 1873.9,51.6 1875.8,51.0 1877.2,49.9 1878.9,49.4 1879.8,47.8 1882.2,46.1 1884.4,44.7 1886.3,43.0 1889.3,45.0 1890.4,42.6 1892.1,42.1 1893.4,44.0 1895.0,43.2 1898.2,41.1 1898.7,44.2 1900.2,45.4 1900.9,47.3 1903.0,46.2" fill="none" stroke="#0000ff" stroke-width="5.2" stroke-linejoin="round" stroke-linecap="round" />
<path d="M1690.6,483.2 1691.4,480.1 1689.9,476.8 1691.4,475.2 1693.7,474.5 1694.8,473.2 1693.7,470.6 1695.4,469.5 1696.2,468.0 1697.7,466.7 1698.9,465.4 1698.9,463.4 1698.4,461.2 1702.8,460.7 1704.4,458.8 1702.9,455.8 1705.4,454.6 1705.3,452.4 1706.4,450.6 1706.9,448.7 1705.9,446.2 1708.4,445.1 1709.7,443.5 1707.7,440.6 1712.4,440.4 1713.3,438.6 1713.6,436.6 1714.6,434.9 1713.6,432.4 1712.9,429.9 1713.2,428.0 1713.7,426.1 1715.7,424.8 1716.2,422.9 1718.0,421.4 1715.0,418.1 1721.8,418.5 1722.5,416.5 1720.0,413.3 1721.7,411.6 1722.2,409.4 1722.6,407.2 1722.7,404.8 1723.5,402.7 1723.3,400.2 1725.4,398.4 1725.9,396.0 1726.9,394.7 1725.7,392.6 1727.5,391.5 1728.0,389.9 1729.3,388.6 1727.4,386.2 1730.0,385.2 1731.3,383.8 1731.2,382.0 1730.3,379.9 1730.6,378.2 1731.4,376.6 1733.3,375.2 1735.0,373.8 1733.0,371.4 1732.8,369.4 1734.7,368.1 1735.0,366.2 1733.9,364.0 1734.6,362.3 1736.0,360.8 1737.7,359.4 1735.6,356.8 1736.4,355.1 1739.1,354.1 1737.2,351.6 1739.7,350.5 1740.6,348.8 1740.6,346.9 1739.9,344.7 1741.9,343.4 1742.1,341.6 1743.7,340.2 1742.7,337.8 1746.0,337.1 1742.8,333.9 1745.5,333.0 1746.4,331.3 1748.4,330.1 1746.8,327.6 1749.0,326.4 1748.1,324.1 1750.6,323.0 1752.6,321.8 1750.2,319.0 1752.0,317.7 1750.6,315.3 1753.9,314.5 1754.8,312.9 1753.8,310.6 1752.7,308.3 1755.5,307.3 1757.2,306.0 1757.7,304.2 1757.9,302.4 1754.8,299.3 1757.1,298.1 1760.7,297.5 1757.6,294.4 1761.6,293.9 1763.4,292.6 1762.5,290.1 1763.8,288.6 1762.6,285.8 1762.2,283.4 1764.5,282.2 1765.2,280.2 1766.3,278.4 1768.1,277.0 1767.8,274.7 1769.0,273.1 1770.1,271.4 1770.3,269.5 1773.5,269.0 1772.3,266.5 1772.6,264.3 1773.0,262.1 1773.3,259.2 1776.6,257.7 1774.9,256.4 1773.1,254.8 1774.3,252.9 1775.4,251.5 1775.5,249.8 1778.2,249.0 1775.6,246.3 1778.5,245.6 1778.7,243.5 1777.6,240.9 1780.1,239.7 1780.5,238.0 1782.0,236.7 1781.3,234.6 1782.9,233.4 1780.8,230.7 1782.3,229.4 1785.6,228.8 1786.6,227.3 1785.8,225.1 1785.6,223.2 1788.6,222.5 1784.8,219.2 1787.4,218.0 1790.2,216.9 1790.9,215.0 1789.2,212.3 1788.7,210.2 1794.0,210.4 1792.9,208.1 1792.0,206.0 1794.0,205.0 1796.1,203.3 1792.2,199.1 1798.2,199.0 1798.6,196.6 1795.3,193.5 1799.9,193.6 1797.0,190.7 1801.7,190.8 1801.4,188.7 1804.6,188.2 1801.4,184.8 1803.0,183.5 1805.1,182.4 1803.6,179.5 1804.3,177.7 1805.5,176.1 1806.7,174.4 1806.2,172.0 1809.1,171.0 1810.0,169.2 1810.2,167.1 1813.2,166.2 1811.2,163.2 1814.2,162.4 1812.4,159.4 1815.0,158.5 1812.0,155.2 1815.7,154.7 1815.8,152.9 1816.1,151.0 1816.6,149.3 1817.6,147.9 1817.8,146.1 1816.4,143.6 1819.2,143.0 1819.9,141.4 1820.6,139.9 1820.4,138.1 1822.3,137.1 1824.2,136.1 1823.7,133.3 1824.3,130.9 1827.8,129.9 1828.2,127.5 1829.1,125.4 1830.4,123.5 1829.3,120.6 1830.5,118.8 1833.1,117.7 1831.8,114.7 1833.3,113.1 1834.9,111.6 1835.9,109.7 1836.0,107.4 1838.7,106.4 1838.2,103.7 1840.4,102.4 1842.0,100.7 1842.6,98.5 1843.8,96.6 1842.5,93.2 1843.5,91.1 1845.6,89.7 1848.2,88.7 1850.7,87.6 1848.4,83.5 1851.5,82.9 1851.2,80.1 1852.5,78.4 1854.2,76.9 1856.6,75.8 1857.1,73.6 1859.4,72.6 1857.8,69.0 1861.3,68.8 1862.5,67.1 1862.6,64.7 1864.2,63.5 1864.2,61.0 1864.9,58.9 1867.0,58.2 1868.1,56.5 1873.1,59.0 1871.0,54.0 1874.5,55.2 1874.5,52.3 1876.0,51.3 1877.8,50.8 1877.8,47.9 1880.6,49.0 1882.6,46.7 1883.4,42.8 1887.0,44.4 1888.8,43.5 1890.5,42.7 1892.3,44.0 1893.9,40.9 1895.3,42.5 1896.8,43.5 1899.9,42.4 1899.7,46.1 1903.2,43.7 1903.0,46.2" fill="none" stroke="#0000ff" stroke-width="3.5" stroke-linejoin="round" stroke-linecap="round" />
<path d="M1903.0,46.2 1925.2,105.2" fill="none" stroke="#0000ff" stroke-width="4.6" stroke-linejoin="round" stroke-linecap="round" />
<path d="M1685.5,482.4 1686.2,480.3 1685.3,478.3 1685.6,476.4 1684.7,474.5 1685.5,472.6 1684.7,471.0 1685.4,469.2 1684.3,467.6 1685.2,465.8 1684.7,464.0 1684.7,462.2 1684.5,460.3 1684.5,458.5 1683.6,456.7 1682.9,454.8 1684.0,452.8 1683.4,451.0 1683.5,449.2 1683.8,447.3 1682.5,445.6 1682.9,443.7 1682.9,442.0 1682.5,440.2 1683.0,438.4 1682.6,436.6 1682.2,434.8 1681.9,433.0 1682.7,431.1 1681.8,429.4 1682.2,427.5 1682.0,425.6 1680.7,423.8 1680.9,421.9 1681.3,420.0 1681.3,418.1 1681.3,416.2 1681.2,414.3 1681.1,412.3 1680.2,410.5 1680.1,408.5 1680.4,406.6 1679.6,404.7 1680.1,402.6 1678.6,400.8 1679.5,398.8 1678.9,396.8 1677.8,395.0 1679.0,392.9 1678.5,390.9 1678.1,389.0 1677.3,387.0 1677.3,385.0 1678.1,382.9 1676.7,381.4 1675.2,380.0 1676.3,378.2 1675.9,376.6 1676.2,375.0 1675.9,373.3 1675.4,371.7 1675.2,370.1 1676.0,368.3 1674.5,366.9 1676.0,365.0 1674.5,363.4 1674.0,361.8 1674.7,360.0 1674.4,358.3 1673.4,356.7 1674.0,354.9 1672.5,353.4 1672.8,351.6 1673.6,349.7 1672.6,348.0 1671.9,346.3 1672.6,344.3 1672.5,342.5 1671.8,340.8 1670.7,339.0 1671.2,337.0 1671.4,335.0 1671.3,333.1 1671.6,331.1 1670.4,329.6 1670.0,328.0 1670.1,326.4 1670.5,324.7 1669.2,323.2 1670.1,321.5 1667.9,320.1 1669.4,318.3 1668.5,316.8 1668.9,315.1 1668.8,313.5 1667.6,312.0 1667.9,310.1 1667.8,308.3 1667.7,306.4 1666.7,304.7 1666.4,302.9 1665.7,301.3 1667.7,299.3 1666.0,297.8 1665.8,296.1 1664.9,294.5 1665.7,292.4 1664.6,290.6 1665.2,288.5 1664.6,286.6 1663.8,284.9 1663.8,283.0 1662.5,281.4 1662.5,279.5 1662.0,277.8 1661.3,276.2 1661.5,274.3 1661.0,272.6 1661.4,270.8 1658.7,269.8 1659.6,267.9 1659.1,266.3 1658.8,264.2 1658.8,262.1 1658.3,260.1 1657.6,258.2 1656.9,256.4 1656.9,254.3 1656.5,252.6 1655.0,251.2 1655.4,249.3 1654.3,247.1 1653.8,244.8 1653.9,242.6 1653.4,240.5 1652.9,238.5 1651.9,236.6 1651.7,234.4 1650.8,232.5 1650.8,230.0 1650.3,227.7 1650.4,225.9 1649.7,224.4 1648.3,223.0 1648.0,221.2 1647.3,219.6 1647.4,217.7 1647.7,215.8 1646.7,214.2 1644.8,212.8 1644.7,210.9 1644.2,209.2 1644.6,207.2 1643.8,205.5 1643.4,203.7 1643.6,201.7 1641.8,200.3 1641.2,198.6 1642.0,196.4 1640.7,194.9 1639.6,193.3 1638.4,191.8 1638.1,189.9 1637.0,188.3 1637.6,186.2 1637.0,184.4 1636.8,182.5 1635.6,180.9 1634.7,179.2 1634.1,177.5 1634.7,175.3 1632.3,174.2 1632.6,172.2 1631.9,170.5 1631.5,168.8 1630.4,167.3 1630.2,165.5 1629.8,163.9 1628.7,162.5 1628.0,161.0 1627.5,159.4 1626.6,158.1 1626.4,156.4 1625.5,154.2 1624.8,151.9 1624.4,149.6 1623.5,147.4 1621.8,145.6 1621.3,143.2 1620.4,141.8 1619.9,140.2 1618.9,138.9 1618.2,137.3 1617.1,135.9 1616.2,134.5 1616.0,132.5 1615.3,130.8 1614.2,129.4 1613.2,127.8 1612.2,126.3 1610.9,124.9 1609.4,123.7 1609.6,121.5 1608.4,120.1 1607.2,118.9 1606.2,117.6 1606.2,115.5 1603.8,114.5 1604.0,111.7 1602.5,110.5 1602.1,108.5 1599.1,107.0 1597.6,104.8 1595.6,103.0 1594.0,100.8 1591.7,98.6 1590.3,97.4 1589.8,95.4 1587.8,94.6 1586.6,93.0 1585.7,91.1 1583.9,90.0 1582.6,88.4 1581.5,86.6 1579.9,85.4 1578.2,84.2 1577.2,82.4 1575.8,81.1 1575.2,79.1 1572.9,78.8 1572.2,76.7 1570.3,76.1 1569.1,74.7 1567.8,73.4 1566.7,72.0 1565.5,70.6 1564.5,69.1 1562.4,68.9 1561.6,67.1 1560.2,66.2 1558.8,65.3 1557.0,65.0 1556.1,63.4 1554.5,62.9 1552.0,61.1 1549.2,59.8 1546.7,58.0 1544.1,56.5 1541.4,55.3 1538.5,54.9 1536.1,53.4 1533.4,52.3 1530.4,52.6 1528.1,50.7 1525.1,51.3 1522.6,49.7 1520.0,49.0 1517.4,48.0 1514.6,47.9 1511.8,47.6 1509.6,47.1 1508.1,46.5 1507.0,44.8 1504.8,44.6 1503.0,44.5 1501.4,43.6 1499.5,44.1 1497.7,43.8 1495.9,43.6 1494.2,42.5 1492.6,42.5 1490.8,43.3 1489.1,43.9 1487.5,42.9 1485.6,43.0 1483.8,42.8 1481.9,42.6 1480.1,43.0 1478.2,42.4 1476.4,42.4 1474.6,42.6 1472.8,42.9 1471.0,42.9 1469.3,42.3 1467.5,43.2 1465.7,42.7 1463.9,43.0 1462.2,43.3 1460.4,42.3 1458.6,42.6 1456.9,42.5 1455.1,42.1 1453.3,43.3 1451.5,42.5 1449.7,42.4 1447.8,42.1 1446.0,43.1 1444.1,42.2 1442.3,42.4 1440.4,41.8 1438.7,42.0 1437.1,42.3 1435.4,41.5 1433.7,42.6 1432.0,42.8 1430.2,42.8 1428.4,43.2 1426.5,42.8 1424.8,43.9 1423.0,43.2 1420.7,43.4 1419.1,43.6 1417.9,44.7 1415.9,44.3 1413.8,45.8 1411.5,46.0 1409.6,47.4 1407.4,47.3 1405.6,47.6 1403.9,46.7 1402.5,47.1 1401.0,47.6 1400.0,46.5 1399.0,46.1 1398.1,46.1 1397.5,45.8" fill="none" stroke="#fa1a74" stroke-width="4.8" stroke-linejoin="round" stroke-linecap="round" />
<path d="M1397.5,45.8 1339.9,106.5" fill="none" stroke="#fa1a74" stroke-width="4.6" stroke-linejoin="round" stroke-linecap="round" />
<path d="M1686.7,482.2 1686.9,480.3 1687.1,478.3 1686.3,476.3 1688.5,475.0 1690.4,473.7 1691.1,471.7 1689.9,469.2 1690.0,467.0 1691.0,465.5 1692.5,464.2 1692.4,462.5 1691.9,460.6 1693.3,459.3 1693.1,457.5 1694.3,456.2 1693.7,454.3 1693.1,452.2 1695.2,450.8 1696.4,449.1 1694.9,447.0 1696.3,445.7 1697.7,444.4 1697.0,441.8 1697.3,439.5 1700.6,438.1 1699.9,435.6 1700.6,433.6 1699.1,430.9 1702.3,429.4 1699.4,426.4 1701.1,424.4 1703.0,422.4 1704.0,420.9 1702.0,418.7 1702.6,417.2 1703.9,415.7 1702.1,413.5 1705.2,412.5 1705.5,410.7 1704.8,408.8 1706.2,407.3 1706.9,405.6 1706.8,403.8 1707.4,402.1 1708.8,400.5 1707.1,398.3 1708.1,396.6 1707.7,394.7 1709.7,393.1 1708.5,391.0 1709.7,389.3 1709.6,387.3 1709.9,385.4 1711.9,383.7 1710.3,381.5 1712.1,379.8 1711.7,377.7 1712.5,375.8 1711.2,373.6 1712.6,371.7 1712.6,369.7 1711.4,367.5 1712.6,365.6 1712.4,363.6 1712.7,361.6 1714.3,359.7 1712.3,357.5 1711.5,355.4 1711.6,353.5 1713.2,351.7 1713.1,349.7 1714.0,347.9 1714.7,346.0 1716.1,344.2 1714.7,342.2 1715.0,340.3 1713.8,338.3 1715.3,336.4 1716.2,334.5 1716.3,332.6 1713.0,330.4 1716.1,328.5 1716.9,326.5 1716.2,324.9 1713.8,323.1 1715.2,321.6 1716.2,320.0 1716.1,318.2 1714.9,316.4 1715.0,314.6 1717.0,313.0 1714.7,310.9 1717.8,309.1 1716.4,307.1 1716.8,305.2 1715.2,303.1 1716.1,301.1 1717.5,299.2 1715.4,297.1 1719.2,295.3 1715.6,293.2 1715.9,291.2 1717.4,289.3 1717.9,287.5 1718.3,285.7 1717.2,283.8 1717.4,282.0 1717.4,280.4 1717.1,278.8 1715.0,277.1 1718.8,275.6 1718.1,273.8 1718.0,272.0 1717.1,270.2 1718.0,267.8 1717.6,265.5 1717.5,263.4 1718.6,261.2 1715.5,259.5 1717.4,257.4 1715.8,255.7 1716.5,253.8 1718.2,251.7 1715.4,250.1 1716.3,248.2 1715.6,246.3 1717.1,244.4 1714.9,242.9 1714.0,241.2 1716.1,239.3 1715.0,237.8 1714.9,236.2 1716.0,232.8 1713.5,230.2 1713.5,227.4 1713.6,224.8 1713.3,222.5 1711.7,220.4 1712.7,217.3 1713.6,215.5 1710.5,214.5 1712.5,212.1 1708.0,210.9 1711.2,208.0 1709.0,206.1 1709.3,204.4 1708.5,202.9 1707.9,201.4 1707.0,199.9 1707.6,198.1 1709.0,196.1 1708.4,193.9 1706.4,191.9 1705.6,190.0 1704.9,188.1 1703.8,186.5 1706.0,183.5 1704.2,182.6 1702.9,181.3 1700.8,178.9 1698.7,176.5 1700.1,173.9 1698.9,172.8 1696.5,172.0 1697.7,169.7 1695.0,168.6 1696.1,166.3 1694.0,164.9 1694.0,162.9 1694.4,160.7 1693.8,158.8 1693.9,156.7 1691.5,155.3 1693.4,152.7 1692.6,150.8 1690.6,149.6 1690.5,147.6 1688.6,146.5 1688.5,144.6 1686.7,143.5 1687.4,141.3 1686.7,139.8 1687.1,137.7 1686.0,136.4 1685.1,135.0 1682.4,132.9 1680.9,130.1 1679.1,127.7 1677.8,125.1 1674.3,124.4 1674.5,120.4 1670.8,120.0 1669.6,117.1 1668.0,114.5 1665.7,112.7 1665.3,108.9 1661.8,108.0 1661.8,105.6 1660.3,104.7 1657.7,104.9 1657.0,103.0 1655.9,101.0 1653.3,101.1 1651.8,99.5 1649.6,98.8 1648.1,96.9 1645.9,96.0 1644.2,94.3 1642.7,92.2 1641.0,90.5 1638.3,90.3 1636.4,88.9 1634.9,87.1 1632.3,86.7 1629.9,86.0 1629.9,83.2 1627.4,84.0 1627.2,81.5 1624.7,82.2 1625.1,78.8 1622.0,80.4 1621.3,77.4 1619.8,75.5 1616.5,76.4 1616.2,73.0 1613.3,74.0 1611.2,73.7 1610.1,69.9 1608.2,68.6 1606.0,68.3 1603.2,69.5 1602.4,66.2 1599.7,65.3 1598.0,64.8 1596.3,64.1 1593.8,64.9 1592.2,63.1 1590.8,60.0 1588.5,59.6 1585.8,60.9 1583.5,60.7 1581.7,59.0 1579.9,57.7 1577.9,57.6 1575.6,59.0 1572.9,56.8 1570.3,56.1 1568.3,54.2 1565.8,53.9 1563.1,54.0 1560.2,52.6 1558.0,53.8 1556.8,51.3 1554.3,52.9 1552.6,51.5 1550.7,50.5 1548.2,51.8 1546.1,51.1 1543.8,51.7 1542.1,49.3 1540.0,49.0 1537.9,48.9 1536.0,47.7 1533.6,50.1 1531.9,47.6 1530.0,47.2 1527.9,47.4 1526.1,46.0 1524.2,44.8 1522.0,46.9 1519.9,47.3 1518.0,46.8 1516.0,45.9 1514.0,45.3 1511.9,46.7 1509.7,44.7 1507.5,46.8 1505.8,44.8 1504.2,45.3 1502.6,45.3 1500.9,43.5 1499.3,46.1 1497.7,46.0 1495.4,45.4 1493.1,45.1 1491.1,47.4 1489.2,45.7 1486.0,46.5 1485.7,45.9 1486.7,46.0 1487.4,44.0 1488.3,43.3 1488.0,42.5 1485.0,45.4 1483.0,41.5 1480.9,41.7 1478.9,42.1 1477.2,42.7 1475.5,43.1 1473.7,42.6 1472.0,41.1 1470.3,42.6 1468.6,41.1 1467.0,45.3 1465.3,43.1 1463.6,42.4 1461.9,42.7 1460.3,44.5 1458.6,43.5 1456.8,41.6 1455.1,44.3 1453.4,44.1 1451.6,44.2 1449.9,43.7 1448.2,42.5 1446.6,42.6 1445.0,45.4 1443.3,41.7 1441.7,44.0 1440.1,44.0 1438.5,41.6 1436.9,43.5 1435.2,44.7 1433.6,44.1 1432.0,44.2 1429.8,44.4 1427.7,43.6 1425.7,42.2 1423.8,42.6 1421.8,44.3 1420.4,39.8 1418.4,43.6 1416.9,42.2 1415.2,42.1 1413.1,41.1 1410.8,42.0 1408.7,40.9 1406.7,39.0 1404.4,41.0 1402.3,42.1 1400.2,40.7 1398.1,41.9 1396.0,41.7 1393.9,41.2 1392.0,41.3 1390.1,42.2 1388.1,41.2 1386.4,42.5 1384.8,43.9 1382.9,41.8 1379.9,43.3 1377.4,41.6 1374.9,43.2 1373.2,41.6 1371.3,41.6 1369.4,44.6 1367.3,43.4 1364.9,43.3 1361.5,41.4 1359.7,45.5 1356.1,43.5 1353.4,44.1 1351.0,45.3 1348.7,45.5 1346.9,47.1 1344.8,46.9 1342.8,46.9 1340.7,46.9 1338.3,46.7 1335.4,47.6 1333.8,48.1 1332.1,47.9 1330.4,46.8 1328.6,48.9 1327.0,48.3 1325.4,47.3 1322.6,47.3 1320.7,46.6" fill="none" stroke="#30b077" stroke-width="5.2" stroke-linejoin="round" stroke-linecap="round" />
<path d="M1686.3,482.1 1683.5,479.4 1687.2,478.4 1687.8,476.7 1689.7,475.3 1686.3,472.6 1689.2,471.2 1690.8,469.4 1691.4,467.4 1692.8,466.0 1693.1,464.4 1690.6,462.0 1693.4,461.0 1692.4,459.0 1692.2,457.3 1695.9,456.6 1693.3,454.2 1693.4,452.3 1694.5,450.6 1694.4,448.6 1697.4,447.7 1697.0,445.8 1698.8,444.6 1698.0,442.0 1697.1,439.5 1700.0,437.9 1698.1,435.2 1698.9,433.1 1699.8,431.1 1700.7,429.0 1702.8,427.2 1700.8,424.3 1702.7,422.3 1702.5,420.6 1701.2,418.5 1701.8,417.0 1703.4,415.6 1704.7,414.1 1705.0,412.4 1705.6,410.8 1705.4,408.9 1705.1,407.1 1706.7,405.6 1705.0,403.4 1704.9,401.6 1706.7,400.1 1705.5,398.0 1707.2,396.5 1707.2,394.6 1707.8,392.8 1708.8,391.1 1708.1,389.0 1708.9,387.2 1707.3,385.1 1710.3,383.5 1709.1,381.4 1711.2,379.7 1706.8,377.1 1710.0,375.5 1711.7,373.7 1708.1,371.2 1711.3,369.6 1712.2,367.6 1712.4,365.6 1710.3,363.4 1713.0,361.6 1713.1,359.6 1711.7,357.5 1714.4,355.7 1713.4,353.7 1713.7,351.7 1713.2,349.7 1714.7,347.9 1714.2,346.0 1715.9,344.2 1715.0,342.2 1713.6,340.2 1714.3,338.3 1716.0,336.5 1714.3,334.4 1715.5,332.6 1715.8,330.5 1714.9,328.5 1711.9,326.3 1715.5,324.8 1715.7,323.2 1715.7,321.6 1714.5,319.9 1717.5,318.3 1715.6,316.4 1715.0,314.6 1715.0,312.8 1716.6,311.0 1714.7,308.9 1714.9,307.0 1719.4,305.3 1718.5,303.3 1718.2,301.3 1718.8,299.3 1717.8,297.2 1714.6,295.1 1718.9,293.3 1719.0,291.4 1718.0,289.4 1714.6,287.4 1719.3,285.7 1719.5,283.9 1716.9,282.0 1717.9,280.4 1718.8,278.8 1717.6,277.2 1719.4,275.6 1717.9,273.8 1718.8,272.0 1717.9,270.2 1715.6,267.9 1716.2,265.5 1722.1,263.1 1717.8,261.2 1719.2,259.2 1718.8,257.3 1719.4,255.4 1717.6,253.7 1715.8,251.9 1716.5,250.0 1713.6,248.4 1715.9,246.3 1717.4,244.4 1712.8,243.1 1716.0,241.0 1716.8,239.2 1717.3,237.5 1713.9,236.3 1713.9,233.2 1711.7,230.5 1712.5,227.6 1714.2,224.7 1715.8,221.9 1710.6,220.6 1713.6,217.2 1711.9,215.9 1710.2,214.5 1713.7,211.9 1706.5,211.1 1709.7,208.3 1709.7,206.0 1712.2,203.9 1711.4,202.4 1711.8,200.6 1708.5,199.6 1709.4,197.8 1709.6,196.0 1707.9,194.0 1707.2,191.7 1705.9,189.9 1705.0,188.0 1703.3,186.7 1706.8,183.1 1703.0,183.2 1700.2,182.9 1701.6,178.4 1699.6,176.0 1699.1,174.4 1700.5,172.0 1697.3,171.6 1696.3,170.1 1695.1,168.6 1695.5,166.5 1694.3,164.8 1694.7,162.7 1698.3,159.7 1693.9,158.8 1691.6,157.3 1695.0,154.2 1693.0,152.8 1692.3,150.9 1691.6,149.2 1691.1,147.3 1690.2,145.8 1690.6,143.7 1689.3,142.4 1689.1,140.5 1685.9,140.2 1685.8,138.3 1684.1,137.4 1685.5,134.7 1683.8,132.0 1680.5,130.4 1680.1,127.0 1680.6,122.8 1677.2,121.9 1672.7,122.1 1671.9,119.0 1670.7,116.1 1668.0,114.5 1666.5,111.9 1665.3,108.9 1662.2,107.6 1659.6,108.0 1660.1,104.9 1658.0,104.6 1656.8,103.2 1654.6,102.7 1652.3,102.5 1650.7,101.0 1649.6,98.7 1647.1,98.3 1643.9,99.0 1645.1,93.0 1641.2,94.5 1639.6,92.6 1638.7,89.8 1634.3,92.0 1635.5,86.2 1631.8,87.4 1631.1,84.3 1628.9,84.7 1628.2,82.9 1626.7,82.2 1625.3,81.4 1622.4,82.6 1621.4,81.2 1620.7,78.2 1620.0,75.1 1616.6,76.2 1615.8,73.7 1613.9,73.1 1612.6,71.6 1610.5,69.3 1606.6,71.0 1606.3,67.7 1604.3,67.3 1602.2,66.5 1599.4,66.2 1597.7,65.5 1595.9,65.2 1593.9,64.6 1593.4,59.0 1590.9,59.5 1588.1,61.2 1586.2,59.5 1583.3,61.3 1580.5,63.3 1578.8,61.4 1577.8,58.1 1576.5,55.8 1572.9,57.0 1569.9,57.7 1567.8,56.0 1565.2,56.6 1562.5,56.5 1559.8,54.1 1558.0,53.9 1556.1,54.1 1554.1,53.7 1552.2,53.3 1550.5,51.1 1548.9,48.9 1546.2,50.7 1544.9,46.7 1541.6,51.7 1540.1,48.6 1537.6,50.2 1535.9,48.4 1533.9,47.7 1532.0,46.8 1530.2,45.7 1527.9,47.9 1525.8,48.7 1524.0,46.9 1522.0,46.0 1519.9,47.3 1518.1,44.9 1516.1,43.6 1513.8,48.0 1511.9,45.3 1509.7,44.3 1507.5,48.5 1505.8,45.4 1504.2,46.1 1502.6,47.8 1500.9,43.9 1499.3,45.5 1497.7,46.6 1495.4,45.3 1493.1,45.0 1491.1,44.8 1489.2,45.1 1486.5,45.2 1484.1,44.1 1485.7,44.2 1487.5,44.1 1485.1,45.6 1488.3,39.6 1485.0,42.9 1483.0,43.8 1480.9,44.9 1478.9,41.9 1477.2,42.2 1475.5,43.2 1473.7,43.0 1472.0,43.7 1470.3,43.6 1468.6,42.7 1467.0,43.5 1465.3,41.6 1463.6,42.9 1461.9,42.5 1460.3,42.2 1458.5,41.0 1456.8,42.0 1455.1,42.6 1453.3,43.2 1451.6,44.2 1449.9,43.6 1448.2,42.2 1446.6,42.9 1445.0,43.8 1443.4,45.2 1441.8,45.6 1440.1,42.9 1438.5,41.9 1436.8,42.8 1435.2,45.4 1433.6,43.7 1432.0,43.1 1429.8,44.7 1427.8,42.7 1425.6,43.4 1423.7,44.2 1421.8,44.7 1420.2,41.5 1418.5,42.0 1416.7,43.6 1415.1,43.6 1413.2,40.6 1410.9,40.7 1408.6,41.8 1406.7,38.9 1404.4,41.5 1402.3,42.5 1400.1,39.5 1398.1,41.4 1395.9,40.8 1393.9,41.4 1392.2,43.1 1390.3,43.6 1388.2,42.4 1386.2,40.3 1384.9,44.0 1382.9,40.7 1379.9,42.6 1377.1,44.4 1375.1,42.2 1373.2,41.4 1371.1,43.2 1369.4,44.8 1367.0,41.3 1365.0,43.8 1361.7,42.2 1359.9,46.3 1356.4,44.7 1353.9,46.4 1351.5,47.9 1348.9,46.6 1346.7,46.4 1344.9,47.7 1342.9,48.9 1340.7,47.0 1338.3,50.0 1335.5,46.6 1333.8,46.6 1332.3,44.8 1330.5,45.9 1328.7,46.6 1327.1,46.6 1325.4,46.9 1322.6,48.6 1320.7,46.6" fill="none" stroke="#30b077" stroke-width="3.5" stroke-linejoin="round" stroke-linecap="round" />
<path d="M1320.7,46.6 1231.2,106.2" fill="none" stroke="#30b077" stroke-width="4.6" stroke-linejoin="round" stroke-linecap="round" />
<line x1="1687.2" y1="13.1" x2="1687.2" y2="487.2" stroke="#000" stroke-width="1.2" stroke-dasharray="3.8 4.4" stroke-dashoffset="-3" opacity="0.85"/>
<line x1="502.5" y1="389.5" x2="566.5" y2="389.5" stroke="#0000ff" stroke-width="5.2" stroke-linecap="round"/><text class="lg" x="571.6" y="398">axial strain</text><line x1="502.5" y1="424.2" x2="566.5" y2="424.2" stroke="#fa1a74" stroke-width="5.2" stroke-linecap="round"/><text class="lg" x="571.6" y="431.9">radial strain</text><line x1="502.5" y1="459.3" x2="566.5" y2="459.3" stroke="#30b077" stroke-width="5.2" stroke-linecap="round"/><text class="lg" x="571.6" y="466.9">volume strain</text>
<line x1="1745.5" y1="386.1" x2="1808.5" y2="386.1" stroke="#0000ff" stroke-width="5.2" stroke-linecap="round"/><text class="lg" x="1815.7" y="395.3">axial strain</text><line x1="1745.5" y1="422.1" x2="1808.5" y2="422.1" stroke="#fa1a74" stroke-width="5.2" stroke-linecap="round"/><text class="lg" x="1815.7" y="429.5">radial strain</text><line x1="1745.5" y1="456.5" x2="1808.5" y2="456.5" stroke="#30b077" stroke-width="5.2" stroke-linecap="round"/><text class="lg" x="1815.7" y="463.7">volume strain</text>
<text class="tk" x="1.2" y="46.3" style="font-size:35px">(a)</text>
<text class="tk" x="1025.7" y="55.2" style="font-size:35px">(b)</text>
<g transform="translate(28.3,438.6) rotate(-90)"><text class="lb" x="0" y="0" >Deviatoric stress</text><text class="lb" x="193.9" y="0" >(</text><text class="lb" x="220.3" y="7.8" style="font-size:20px">1</text><text class="lb" x="229.1" y="0" font-weight="bold">-</text><text class="lb" x="256.8" y="7.8" style="font-size:20px">3</text><text class="lb" x="264.3" y="0" >)</text><text class="lb" x="280" y="0" >/</text><text class="lb" x="294.8" y="0" letter-spacing="1">MPa</text><text x="203.1" y="0" style="font-family:'Noto Serif CJK SC',serif;font-size:26px;font-style:italic;font-weight:700">σ</text><text x="239.3" y="0" style="font-family:'Noto Serif CJK SC',serif;font-size:26px;font-style:italic;font-weight:700">σ</text></g>
<g transform="translate(1053.7,438.8) rotate(-90)"><text class="lb" x="0" y="0" >Deviatoric stress</text><text class="lb" x="193.9" y="0" >(</text><text class="lb" x="220.3" y="7.8" style="font-size:20px">1</text><text class="lb" x="229.1" y="0" font-weight="bold">-</text><text class="lb" x="256.8" y="7.8" style="font-size:20px">3</text><text class="lb" x="264.3" y="0" >)</text><text class="lb" x="280" y="0" >/</text><text class="lb" x="294.8" y="0" letter-spacing="1">MPa</text><text x="203.1" y="0" style="font-family:'Noto Serif CJK SC',serif;font-size:26px;font-style:italic;font-weight:700">σ</text><text x="239.3" y="0" style="font-family:'Noto Serif CJK SC',serif;font-size:26px;font-style:italic;font-weight:700">σ</text></g>
<text class="lb" style="font-size:28.2px" transform="translate(502.8,380.2) rotate(-90)">Failure mode</text>
<text class="lb" style="font-size:28.2px" transform="translate(1506.3,390.9) rotate(-90)">Failure mode</text>
<text class="tk" x="303.1" y="552.1" style="font-size:25.6px;letter-spacing:0px">Radial strain</text><text x="452.4" y="551" style="font-family:'Noto Serif CJK SC',serif;font-size:25px;font-style:italic;font-weight:700">ε</text><text class="tk" x="464.1" y="560.4" style="font-size:19px">3</text>
<text class="tk" x="720.4" y="550.5" style="font-size:25.6px;letter-spacing:0.35px">Axial strain</text><text x="859.1" y="549.5" style="font-family:'Noto Serif CJK SC',serif;font-size:25px;font-style:italic;font-weight:700">ε</text><text class="tk" x="871.8" y="557.8" style="font-size:19px">1</text>
<text class="tk" x="1326.9" y="551.9" style="font-size:25.6px;letter-spacing:0px">Radial strain</text><text x="1476.4" y="551" style="font-family:'Noto Serif CJK SC',serif;font-size:25px;font-style:italic;font-weight:700">ε</text><text class="tk" x="1489.7" y="560.3" style="font-size:19px">3</text>
<text class="tk" x="1745.9" y="550.4" style="font-size:25.6px;letter-spacing:0.35px">Axial strain</text><text x="1884.5" y="549.5" style="font-family:'Noto Serif CJK SC',serif;font-size:25px;font-style:italic;font-weight:700">ε</text><text class="tk" x="1897.1" y="557.8" style="font-size:19px">1</text>
</svg></body></html>
